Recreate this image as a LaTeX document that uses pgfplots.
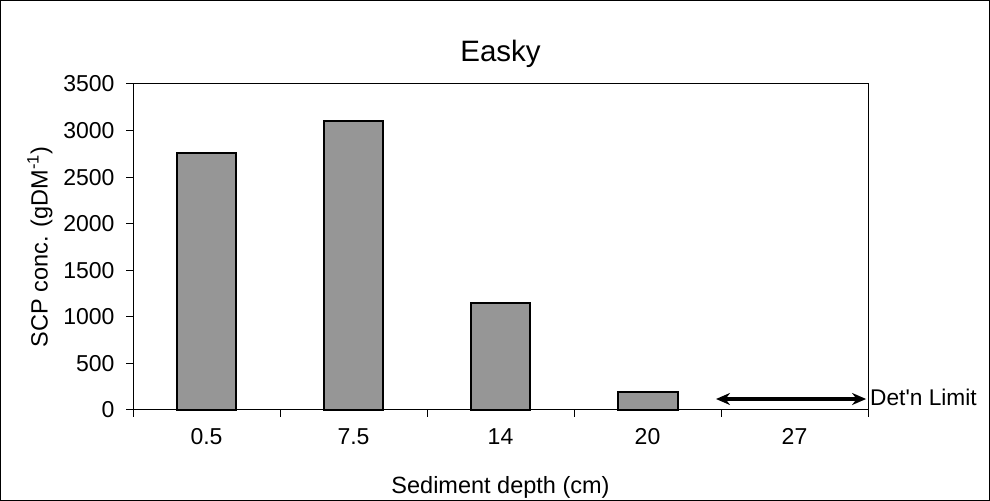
\documentclass[border=0pt]{standalone}
\usepackage{fontspec}
\setmainfont{Liberation Sans}
\usepackage{pgfplots}
\pgfplotsset{compat=1.18}
\usetikzlibrary{arrows.meta}
\definecolor{bargray}{RGB}{150,150,150}
\begin{document}
\begin{tikzpicture}[x=1bp,y=1bp]
\useasboundingbox (0,0) rectangle (990,501);
\draw[line width=1bp] (0.5,0.5) rectangle (989.5,500.5);
\begin{axis}[
  at={(133bp,91bp)}, anchor=south west,
  scale only axis, width=735bp, height=326bp,
  xmin=-0.5, xmax=4.5, ymin=0, ymax=3500,
  xtick={-0.5,0.5,...,4.5}, xticklabels={},
  extra x ticks={0,1,2,3,4},
  extra x tick labels={0.5,7.5,14,20,27},
  extra x tick style={major tick length=0pt, xticklabel style={yshift=-15bp}},
  ytick={0,500,...,3500},
  tick align=outside, xtick pos=bottom, ytick pos=left,
  major tick length=7bp,
  axis line style={line width=1bp},
  every tick/.style={black, line width=1bp},
  /pgf/number format/assume math mode=true,
  /pgf/number format/1000 sep={},
  tick label style={font=\fontsize{23bp}{27bp}\selectfont},
  yticklabel style={xshift=-8bp},
  label style={font=\fontsize{23.5bp}{27bp}\selectfont},
  xlabel={Sediment depth (cm)},
  ylabel={SCP conc. (gDM\textsuperscript{-1})},
  xlabel style={yshift=-18bp},
  ylabel style={yshift=4bp},
  title={Easky},
  title style={font=\fontsize{29.5bp}{33bp}\selectfont, yshift=7bp},
  clip=false,
]
\addplot[ybar, bar width=0.408, fill=bargray, draw=black, line width=2bp]
  coordinates {(0,2760) (1,3100) (2,1150) (3,190)};
\addplot[line width=3.5bp, {Stealth[length=14bp,width=12bp]}-{Stealth[length=14bp,width=12bp]}]
  coordinates {(3.466,118) (4.487,118)};
\node[anchor=west, font=\fontsize{22.7bp}{27bp}\selectfont, inner sep=2bp] at (axis cs:4.5,130) {Det\textquotesingle n Limit};
\end{axis}
\end{tikzpicture}
\end{document}
